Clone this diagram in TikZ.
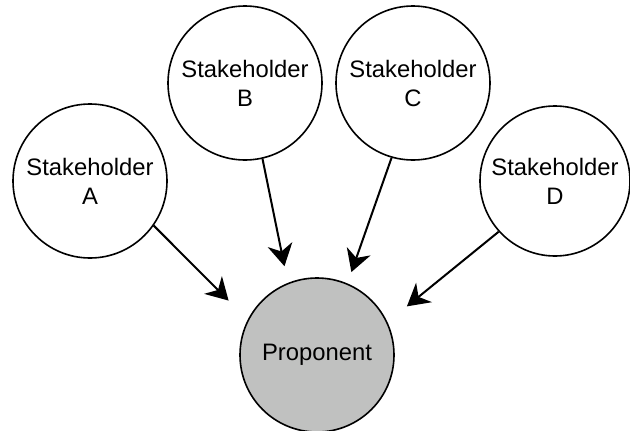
\documentclass[tikz,border=0pt]{standalone}
\usepackage{fontspec}
\setmainfont{Liberation Sans}
\usetikzlibrary{arrows.meta}
\definecolor{propfill}{RGB}{192,193,192}
\begin{document}
\begin{tikzpicture}[x=1pt,y=-1pt,
  party/.style={circle, draw=black, line width=1.6pt, minimum size=154pt,
    inner sep=0pt, align=center, font=\fontsize{23.8}{29}\selectfont},
  flow/.style={line width=2pt, -{Stealth[length=22pt,width=25pt,inset=7pt]}}]
\useasboundingbox (0,0) rectangle (630,431);

% stakeholders and the proponent
\node[party] (A) at (90,181) {Stakeholder\\A};
\node[party] (B) at (245,83) {Stakeholder\\B};
\node[party] (C) at (413,83) {Stakeholder\\C};
\node[party, minimum size=150pt] (D) at (555,181) {Stakeholder\\D};
\node[party, fill=propfill] (P) at (317,355) {Proponent};

% influence arrows, stopping short of the proponent
\draw[flow, shorten >=27pt] (A.-35.5) -- (P.153);
\draw[flow, shorten >=17pt] (B.-77.5) -- (P.112);
\draw[flow, shorten >=12pt] (C.-106.6) -- (P.67.6);
\draw[flow, shorten >=25pt] (D.-138.7) -- (P.25.5);
\end{tikzpicture}
\end{document}
